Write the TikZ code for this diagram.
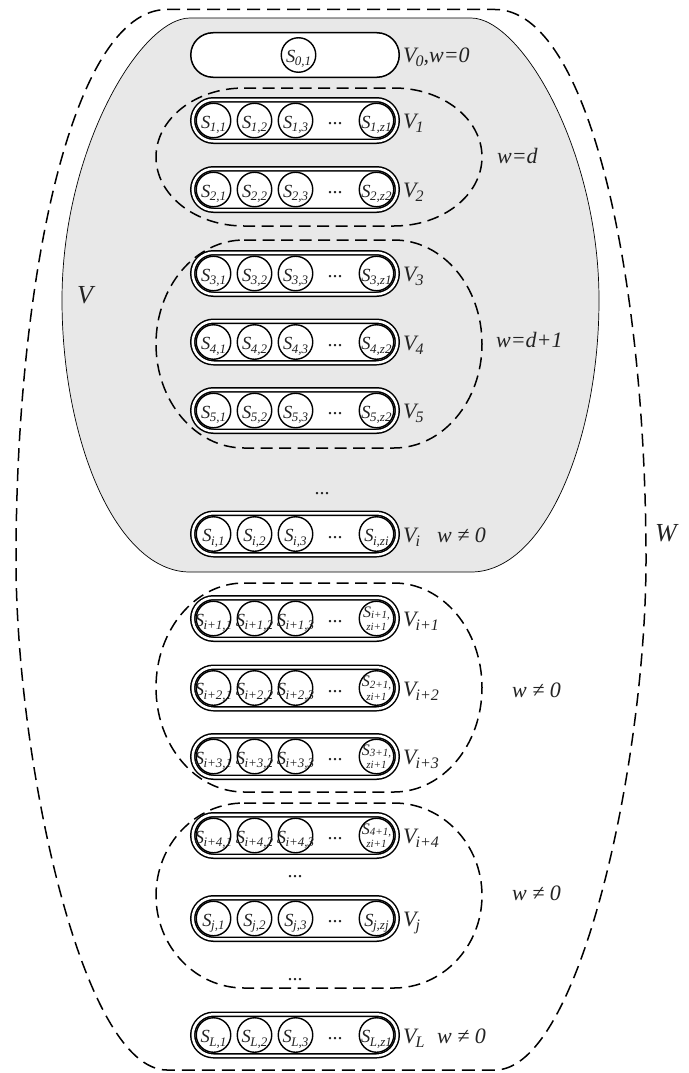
\documentclass[tikz,border=0pt]{standalone}
\usepackage{fontspec}
\setmainfont{Liberation Serif}
\usetikzlibrary{shapes.misc}
\definecolor{vgray}{RGB}{232,232,232}
\definecolor{ink}{RGB}{35,35,35}
\newcommand\Ssub[1]{{\fontsize{18.5}{18.5}\selectfont\itshape S\kern-0.5pt\raisebox{-3.5pt}{\fontsize{13}{13}\selectfont #1}}}
\newcommand\Sstk[1]{\shortstack{{\fontsize{16}{16}\selectfont\itshape S\raisebox{-1.5pt}{\fontsize{11}{11}\selectfont #1}}\\{\fontsize{11}{11}\selectfont\itshape zi+1}}}
\newcommand\Vl[1]{V\kern-1pt\raisebox{-4pt}{\fontsize{16}{16}\selectfont #1}}
\tikzset{
  pillD/.style={rounded rectangle, draw, line width=1.5pt, double=white, double distance=2.5pt,
     minimum width=204.5pt, minimum height=41.5pt, inner sep=0pt, fill=white},
  pillS/.style={rounded rectangle, draw, line width=1.5pt, minimum width=208.5pt,
     minimum height=44.5pt, inner sep=0pt, fill=white},
  circ/.style={circle, draw, line width=1.4pt, minimum size=34.5pt, inner sep=0pt},
  stxt/.style={inner sep=0pt, text=ink, anchor=base, yshift=-7.5pt},
  ktxt/.style={inner sep=0pt, text=ink},
  dotsty/.style={inner sep=0pt, text=ink, font=\fontsize{20}{20}\selectfont, anchor=base, yshift=-4.3pt},
  lab/.style={inner sep=0pt, text=ink, anchor=base west, font=\fontsize{22}{22}\selectfont\itshape},
  biglab/.style={inner sep=0pt, text=ink, anchor=base west, font=\fontsize{26}{26}\selectfont\itshape},
  grpline/.style={line width=1.5pt, dash pattern=on 12pt off 6.5pt},
  outerline/.style={line width=1.5pt, dash pattern=on 13pt off 7pt},
}
\newcommand\srow[6]{%
  \node[pillD] (#1) at (295,#2) {};
  \node[circ] (#1a) at (213.5,#2) {};
  \node[stxt] (#1at) at (#1a) {\Ssub{#3}};
  \node[circ] (#1b) at (254.5,#2) {};
  \node[stxt] (#1bt) at (#1b) {\Ssub{#4}};
  \node[circ] (#1c) at (295.5,#2) {};
  \node[stxt] (#1ct) at (#1c) {\Ssub{#5}};
  \node[dotsty] (#1d) at (335,#2) {...};
  \node[circ] (#1z) at (376.5,#2) {};
  #6
}
\newcommand\grp[2]{\draw[grpline] (244,#1-#2) -- (394,#1-#2)
   arc[start angle=-90,end angle=90,x radius=88,y radius=#2] -- (244,#1+#2)
   arc[start angle=90,end angle=270,x radius=88,y radius=#2] -- cycle;}
\begin{document}
\begin{tikzpicture}[x=1pt,y=-1pt]
\fill[white] (0,0) rectangle (688,1073);
\useasboundingbox (0,0) rectangle (688,1073);
% V region
\draw[line width=0.7pt, fill=vgray] (190,18) -- (471,18) .. controls (521,18) and (599,150) .. (599,300)
  .. controls (599,440) and (545,572) .. (471,572) -- (190,572)
  .. controls (116,572) and (62,440) .. (62,300) .. controls (62,150) and (140,18) .. (190,18) -- cycle;
% W region
\draw[outerline] (167,9.5) -- (495,9.5) .. controls (590,9.5) and (646,280) .. (646,560)
  .. controls (646,760) and (580,1070) .. (495,1070) -- (167,1070)
  .. controls (82,1070) and (16,760) .. (16,560) .. controls (16,280) and (72,9.5) .. (167,9.5) -- cycle;
% groups
\grp{157}{69}
\grp{344}{104}
\grp{687.5}{104.5}
\grp{895.5}{92.5}
% row 0
\node[pillS] (r0) at (295,55) {};
\node[circ] (r0a) at (298.5,55) {};
\node[stxt] (r0at) at (r0a) {\Ssub{0,1}};
\node[lab] (l0) at (403,63) {\Vl{0},w=0};
% rows
\srow{r1}{120.5}{1,1}{1,2}{1,3}{\node[stxt] (r1zt) at (r1z) {\Ssub{1,z1}};}
\srow{r2}{189.5}{2,1}{2,2}{2,3}{\node[stxt] (r2zt) at (r2z) {\Ssub{2,z2}};}
\srow{r3}{273.5}{3,1}{3,2}{3,3}{\node[stxt] (r3zt) at (r3z) {\Ssub{3,z1}};}
\srow{r4}{342}{4,1}{4,2}{4,3}{\node[stxt] (r4zt) at (r4z) {\Ssub{4,z2}};}
\srow{r5}{410.5}{5,1}{5,2}{5,3}{\node[stxt] (r5zt) at (r5z) {\Ssub{5,z2}};}
\srow{ri}{534}{i,1}{i,2}{i,3}{\node[stxt] (rizt) at (riz) {\Ssub{i,zi}};}
\srow{rk}{618.5}{i+1,1}{i+1,2}{i+1,3}{\node[ktxt] (rkzt) at (rkz) {\Sstk{i+1,}};}
\srow{rm}{688}{i+2,1}{i+2,2}{i+2,3}{\node[ktxt] (rmzt) at (rmz) {\Sstk{2+1,}};}
\srow{rn}{756.5}{i+3,1}{i+3,2}{i+3,3}{\node[ktxt] (rnzt) at (rnz) {\Sstk{3+1,}};}
\srow{rp}{835.5}{i+4,1}{i+4,2}{i+4,3}{\node[ktxt] (rpzt) at (rpz) {\Sstk{4+1,}};}
\srow{rj}{918.5}{j,1}{j,2}{j,3}{\node[stxt] (rjzt) at (rjz) {\Ssub{j,zj}};}
\srow{rl}{1035}{L,1}{L,2}{L,3}{\node[stxt] (rlzt) at (rlz) {\Ssub{L,z1}};}
% free dots
\node[dotsty] (d1) at (322,490) {...};
\node[dotsty] (d2) at (295,873) {...};
\node[dotsty] (d3) at (295,976) {...};
% labels
\node[lab] (l1) at (403,128.5) {\Vl{1}};
\node[lab] (l2) at (403,197.5) {\Vl{2}};
\node[lab] (l3) at (403,281.5) {\Vl{3}};
\node[lab] (l4) at (403,350) {\Vl{4}};
\node[lab] (l5) at (403,418.5) {\Vl{5}};
\node[lab] (li) at (403,542) {\Vl{i}};
\node[lab] (lk) at (403,626.5) {\Vl{i+1}};
\node[lab] (lm) at (403,696) {\Vl{i+2}};
\node[lab] (ln) at (403,764.5) {\Vl{i+3}};
\node[lab] (lp) at (403,843.5) {\Vl{i+4}};
\node[lab] (lj) at (403,926.5) {\Vl{j}};
\node[lab] (ll) at (403,1043) {\Vl{L}};
\node[lab] (wi) at (437,542) {w ≠ 0};
\node[lab] (wl) at (437,1043) {w ≠ 0};
\node[lab] (wd) at (497,163) {w=d};
\node[lab] (wd1) at (496,347) {w=d+1};
\node[lab] (wg3) at (512,697) {w ≠ 0};
\node[lab] (wg4) at (512,900) {w ≠ 0};
\node[biglab] (lV) at (77,303) {V};
\node[biglab] (lW) at (655,541) {W};
\end{tikzpicture}
\end{document}
